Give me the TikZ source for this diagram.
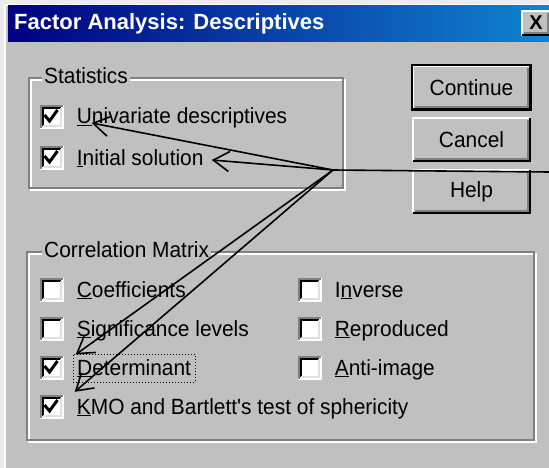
\documentclass[tikz,border=0pt]{standalone}
\usepackage{fontspec}
\setmainfont{Liberation Sans}[Ligatures=TeXOff]
\usetikzlibrary{positioning,arrows.meta}

\definecolor{winface}{RGB}{192,192,192}
\definecolor{winshadow}{RGB}{128,128,128}
\definecolor{winlight}{RGB}{223,223,223}
\definecolor{titledark}{RGB}{0,0,128}
\definecolor{titlelight}{RGB}{16,132,208}

\newfontfamily\dlgfont{Liberation Sans}[Ligatures=TeXOff, FakeStretch=0.95]

\tikzset{
  lbl/.style={inner sep=0pt, anchor=west, font=\dlgfont\fontsize{22}{24}\selectfont,
    text height=16pt, text depth=2pt},
  chkbox/.style={rectangle, fill=white, minimum size=24pt, inner sep=0pt,
    path picture={
      \draw[winshadow, line width=2pt] ([shift={(1pt,1pt)}]path picture bounding box.south west)
        |- ([shift={(-1pt,-1pt)}]path picture bounding box.north east);
      \draw[black, line width=2pt] ([shift={(3pt,3pt)}]path picture bounding box.south west)
        |- ([shift={(-3pt,-3pt)}]path picture bounding box.north east);
      \draw[winlight, line width=2pt] ([shift={(3pt,3pt)}]path picture bounding box.south west)
        -| ([shift={(-3pt,-3pt)}]path picture bounding box.north east);
      #1}},
  chkbox/.default={},
  boxon/.style={chkbox={\draw[black, line width=3pt]
      ([shift={(-7pt,2pt)}]path picture bounding box.center) -- ++(5pt,-6pt) -- ++(8pt,11pt);}},
  boxoff/.style={chkbox},
  btn/.style={rectangle, fill=winface, minimum width=119pt, minimum height=45pt, inner sep=0pt,
    font=\dlgfont\fontsize{22}{24}\selectfont,
    path picture={
      \draw[white, line width=2pt] ([shift={(1pt,1pt)}]path picture bounding box.south west)
        |- ([shift={(-1pt,-1pt)}]path picture bounding box.north east);
      \draw[black, line width=2pt] ([shift={(1pt,1pt)}]path picture bounding box.south west)
        -| ([shift={(-1pt,-1pt)}]path picture bounding box.north east);
      \draw[winshadow, line width=2pt] ([shift={(3pt,3pt)}]path picture bounding box.south west)
        -| ([shift={(-3pt,-3pt)}]path picture bounding box.north east);
    }},
  defbtn/.style={btn, draw=black, line width=2pt},
  grouplbl/.style={fill=winface, inner xsep=2pt, inner ysep=0pt, anchor=west,
    font=\dlgfont\fontsize{22}{24}\selectfont},
  pointer/.style={line width=1.6pt, -{Straight Barb[length=16pt,width=20pt]}},
}

\begin{document}
\begin{tikzpicture}[x=1pt,y=-1pt]
  \useasboundingbox (0,0) rectangle (549,468);

  % window frame and title bar
  \fill[winlight!60!white] (0,0) rectangle (549,468);
  \fill[white] (4,4) rectangle (549,468);
  \fill[winface] (6,6) rectangle (549,468);
  \shade[left color=titledark, right color=titlelight] (8,6) rectangle (549,42);
  \node[anchor=west, inner sep=0pt, text=white, font=\fontsize{22}{24}\selectfont\bfseries]
    (title) at (14,24) {Factor Analysis: Descriptives};
  \node[btn, minimum width=30pt, minimum height=26pt, font=\fontsize{20}{22}\selectfont\bfseries]
    (close) at (536,23) {X};

  % group frames
  \draw[white, line width=2pt] (31,80) rectangle (345,190);
  \draw[winshadow, line width=2pt] (29,78) rectangle (343,188);
  \node[grouplbl] (gStat) at (42,76) {Statistics};

  \draw[white, line width=2pt] (29,254) rectangle (536,442);
  \draw[winshadow, line width=2pt] (27,252) rectangle (534,440);
  \node[grouplbl] (gCorr) at (42,250) {Correlation Matrix};

  % statistics
  \node[boxon] (cUni) at (51.5,117) {};
  \node[lbl, right=13pt of cUni] (tUni) {\underline{U}nivariate descriptives};
  \node[boxon] (cIni) at (51.5,158) {};
  \node[lbl, right=13pt of cIni] (tIni) {\underline{I}nitial solution};

  % correlation matrix, left column
  \node[boxoff] (cCoef) at (51.5,290) {};
  \node[lbl, right=13pt of cCoef] (tCoef) {\underline{C}oefficients};
  \node[boxoff] (cSig) at (51.5,329) {};
  \node[lbl, right=13pt of cSig] (tSig) {\underline{S}ignificance levels};
  \node[boxon] (cDet) at (51.5,368) {};
  \node[lbl, draw, dotted, line width=1pt, inner xsep=4pt, inner ysep=5pt,
    right=9pt of cDet] (tDet) {\underline{D}eterminant};
  \node[boxon] (cKmo) at (51.5,407) {};
  \node[lbl, right=13pt of cKmo] (tKmo) {\underline{K}MO and Bartlett's test of sphericity};

  % correlation matrix, right column
  \node[boxoff] (cInv) at (309.5,290) {};
  \node[lbl, right=13pt of cInv] (tInv) {I\underline{n}verse};
  \node[boxoff] (cRep) at (309.5,329) {};
  \node[lbl, right=13pt of cRep] (tRep) {\underline{R}eproduced};
  \node[boxoff] (cAnti) at (309.5,368) {};
  \node[lbl, right=13pt of cAnti] (tAnti) {\underline{A}nti-image};

  % buttons
  \node[defbtn] (bCont) at (471.5,87.5) {Continue};
  \node[btn] (bCanc) at (471.5,139.5) {Cancel};
  \node[btn] (bHelp) at (471.5,191.5) {Help};

  % pointers
  \coordinate (hub) at (333,170);
  \coordinate (edge) at (549,172);
  \draw[line width=1.6pt] (hub) -- (edge);
  \draw[pointer] (hub) -- ([shift={(15pt,-6pt)}]tUni.west);
  \draw[pointer] (hub) -- ([shift={(8pt,-2pt)}]tIni.east);
  \draw[pointer] (hub) -- ([shift={(3pt,-1pt)}]tDet.north west);
  \draw[pointer] (hub) -- ([shift={(-2pt,6pt)}]tKmo.north west);
\end{tikzpicture}
\end{document}
